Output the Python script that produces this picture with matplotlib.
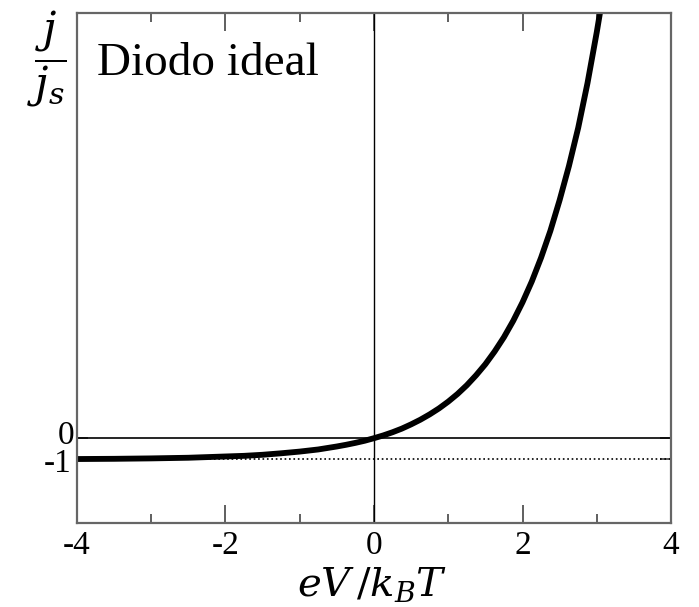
import matplotlib
matplotlib.use('Agg')
from matplotlib import pyplot as plt
from matplotlib.transforms import offset_copy

# values (j/js vs eV/kBT)
volt = [-4, -3.5, -3, -2.5, -2, -1.75, -1.5, -1.25, -1, -0.875, -0.75, -0.625, -0.5, -0.375,
        -0.25, -0.125, 0, 0.125, 0.25, 0.375, 0.5, 0.625, 0.75, 0.875, 1, 1.125, 1.25, 1.375,
        1.5, 1.625, 1.75, 1.875, 2, 2.125, 2.25, 2.375, 2.5, 2.625, 2.75, 2.875, 3, 3.1]
current = [-0.98, -0.97, -0.95, -0.92, -0.86, -0.83, -0.78, -0.71, -0.63, -0.58, -0.53, -0.46,
           -0.39, -0.31, -0.22, -0.12, 0, 0.13, 0.28, 0.45, 0.65, 0.87, 1.12, 1.40, 1.72, 2.08,
           2.49, 2.96, 3.48, 4.08, 4.75, 5.52, 6.39, 7.37, 8.49, 9.75, 11.2, 12.8, 14.6, 16.7,
           19.1, 21.2]

xticks = [-4, -2, 0, 2, 4]
xminor = [-3, -1, 1, 3]
yticks = [-1, 0]
ytick_labels = ['-1', '0']

plt.rcParams['font.family'] = 'Liberation Serif'
plt.rcParams['mathtext.fontset'] = 'dejavuserif'

fig = plt.figure(figsize=(6.99, 6.07), dpi=100)
ax = fig.add_axes([0.110, 0.138, 0.850, 0.8406])

ax.axhline(0, color='black', lw=1.2)
ax.axvline(0, color='black', lw=1.0)
ax.axhline(-1, color='black', lw=1.2, linestyle=':')
ax.plot(volt, current, color='black', lw=4.2, solid_joinstyle='round')

ax.set_xlim(-4, 4)
ax.set_ylim(-4, 20)
ax.set_xticks(xticks)
ax.set_xticklabels([str(v) for v in xticks])
ax.set_xticks(xminor, minor=True)
ax.set_yticks(yticks)
ax.set_yticklabels(ytick_labels)

ax.tick_params(which='both', direction='in', top=True, right=True, labelsize=24,
               color='#444444', width=1.2, pad=5)
ax.tick_params(axis='x', which='major', length=13)
ax.tick_params(axis='x', which='minor', length=6.5)
ax.tick_params(axis='y', which='major', length=8, pad=2)

# the "0" label sits a bit above its tick in the reference
lab0 = ax.get_yticklabels()[1]
lab0.set_transform(offset_copy(lab0.get_transform(), fig=fig, x=0, y=6, units='dots'))
lab1 = ax.get_yticklabels()[0]
lab1.set_transform(offset_copy(lab1.get_transform(), fig=fig, x=-3, y=-1, units='dots'))

for s in ax.spines.values():
    s.set_color('#666666')
    s.set_linewidth(1.6)

ax.text(97 / 699, 1 - 75 / 607, 'Diodo ideal', transform=fig.transFigure, fontsize=34)
fig.text(47 / 699, 1 - 59 / 607, r'$\dfrac{j}{j_s}$', fontsize=31, ha='center', va='center')
fig.text(372 / 699, 1 - 585 / 607, r'$eV\,/k_BT$', fontsize=29, ha='center', va='center')

plt.savefig('out.png', dpi=100)
